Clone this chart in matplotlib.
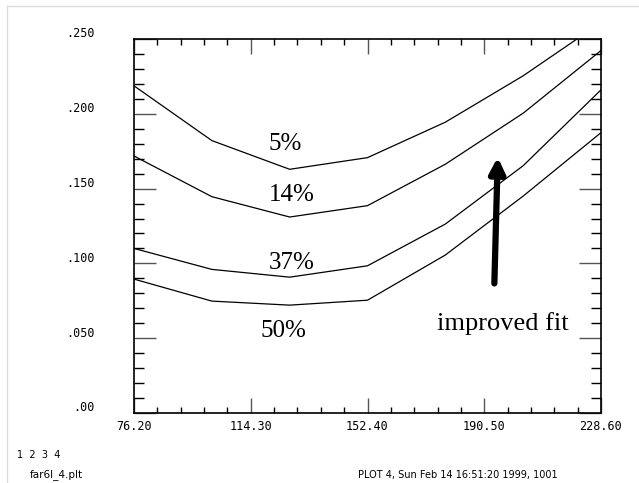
import matplotlib.pyplot as plt
from matplotlib.ticker import MultipleLocator
from matplotlib.lines import Line2D

# data
x_vals = [76.2, 101.6, 127.0, 152.4, 177.8, 203.2, 228.6]
curve_5 = [0.2187, 0.1821, 0.1629, 0.1707, 0.1944, 0.2254, 0.2610]
curve_14 = [0.1718, 0.1446, 0.1310, 0.1386, 0.1663, 0.2004, 0.2423]
curve_37 = [0.1100, 0.0960, 0.0908, 0.0984, 0.1263, 0.1653, 0.2160]
curve_50 = [0.0895, 0.0748, 0.0721, 0.0754, 0.1056, 0.1450, 0.1874]
curve_labels = ['5%', '14%', '37%', '50%']
label_pos = [(125.6, 0.1798), (127.7, 0.1457), (127.7, 0.1006), (124.9, 0.0549)]

x_ticks = [76.2, 114.3, 152.4, 190.5, 228.6]
x_ticklabels = ['76.20', '114.30', '152.40', '190.50', '228.60']
y_ticks = [0.0, 0.05, 0.10, 0.15, 0.20, 0.25]
y_ticklabels = ['.00', '.050', '.100', '.150', '.200', '.250']

W, H = 639, 483
fig = plt.figure(figsize=(W / 100, H / 100), dpi=100)
ax = fig.add_axes([134 / W, 1 - 413 / H, 467 / W, 374 / H])

for ys in [curve_5, curve_14, curve_37, curve_50]:
    ax.plot(x_vals, ys, color='black', linewidth=0.9)

ax.set_xlim(76.2, 228.6)
ax.set_ylim(0, 0.25)

# ticks: inward on all four sides, labels drawn by hand below
ax.set_xticks(x_ticks)
ax.set_yticks(y_ticks)
ax.xaxis.set_minor_locator(MultipleLocator(7.62))
ax.yaxis.set_minor_locator(MultipleLocator(0.01))
ax.tick_params(which='both', direction='in', top=True, right=True,
               labelbottom=False, labelleft=False)
ax.tick_params(axis='x', which='major', length=11, width=1, color='#555555')
ax.tick_params(axis='x', which='minor', length=4, width=1)
ax.tick_params(axis='y', which='major', length=16, width=1, color='#555555')
ax.tick_params(axis='y', which='minor', length=7, width=1)
for s in ax.spines.values():
    s.set_linewidth(1.2)

tick_font = dict(family='DejaVu Sans Mono', fontsize=8.5)
for xv, lab in zip(x_ticks, x_ticklabels):
    ax.annotate(lab, (xv, 0), xytext=(0, -5), textcoords='offset points',
                ha='center', va='top', **tick_font)
for yv, lab in zip(y_ticks, y_ticklabels):
    ax.annotate(lab, (76.2, yv), xytext=(-28, -1), textcoords='offset points',
                ha='right', va='bottom', **tick_font)

for lab, (lx, ly) in zip(curve_labels, label_pos):
    ax.text(lx, ly, lab, family='Liberation Serif', fontsize=18,
            ha='center', va='center')

ax.text(196.5, 0.0595, 'improved fit', family='Liberation Serif', fontsize=19,
        ha='center', va='center')
ax.annotate('', xy=(194.9, 0.171), xytext=(193.8, 0.0866),
            arrowprops=dict(arrowstyle='-|>,head_length=0.9,head_width=0.45',
                            color='black', linewidth=4.5, shrinkA=0, shrinkB=0))

# page footer
fig.text(17 / W, 1 - 455 / H, '1  2  3  4', family='DejaVu Sans', fontsize=7,
         ha='left', va='center')
fig.text(30 / W, 1 - 475 / H, 'far6l_4.plt', family='DejaVu Sans', fontsize=7.5,
         ha='left', va='center')
fig.text(458 / W, 1 - 475 / H, 'PLOT 4, Sun Feb 14 16:51:20 1999, 1001',
         family='DejaVu Sans', fontsize=7, ha='center', va='center')

# light page border (top and left)
fig.add_artist(Line2D([6.5 / W, 6.5 / W], [0, 1 - 5.5 / H],
                      transform=fig.transFigure, color='#dddddd', linewidth=1))
fig.add_artist(Line2D([6.5 / W, 1], [1 - 5.5 / H, 1 - 5.5 / H],
                      transform=fig.transFigure, color='#dddddd', linewidth=1))

fig.savefig('out.png', dpi=100)
